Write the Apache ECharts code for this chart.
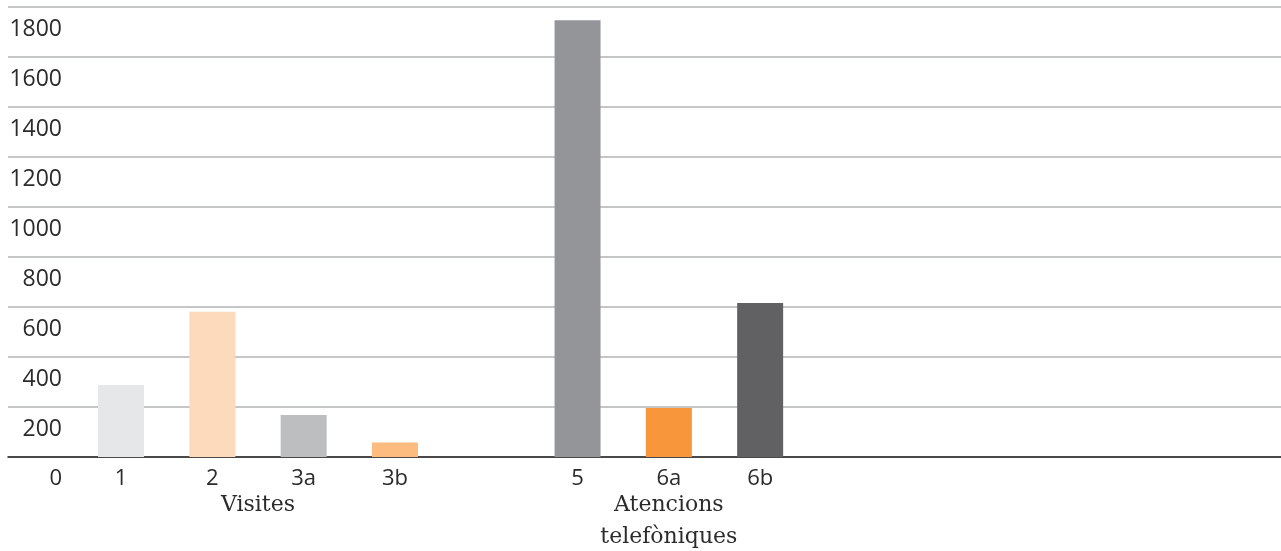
<!DOCTYPE html>
<html>
<head>
<meta charset="utf-8">
<script src="https://cdn.jsdelivr.net/npm/echarts@6/dist/echarts.min.js"></script>
<style>html,body{margin:0;padding:0;background:#fff}#c{width:1281px;height:551px}</style>
</head>
<body>
<div id="c"></div>
<script>
const categories = ['1', '2', '3a', '3b', '', '5', '6a', '6b'];
const values = [288, 581, 168, 58, null, 1747, 196, 616];
const barColors = ['#e6e7e8', '#fcdabb', '#bcbec0', '#fcbb7f', '#ffffff', '#939598', '#f7963a', '#616163'];
// group labels sit on half-band positions (2 * categories + 1 slots)
const groupSlots = new Array(categories.length * 2 + 1).fill('');
groupSlots[4] = 'Visites';
groupSlots[13] = 'Atencions\ntelefòniques';
const yMin = 0, yMax = 1800, yStep = 200;

const chart = echarts.init(document.getElementById('c'), null, {renderer: 'canvas'});
const band = 91.3;
chart.setOption({
  animation: false,
  backgroundColor: '#ffffff',
  grid: [
    {left: 8, right: 0, top: 7, bottom: 94, containLabel: false, outerBoundsMode: 'none'},
    {left: 75.4, top: 7, bottom: 94, width: band * categories.length, containLabel: false, outerBoundsMode: 'none'}
  ],
  xAxis: [
    {gridIndex: 0, type: 'value', min: 0, max: 1,
     axisLine: {show: true, lineStyle: {color: '#231f20', width: 1.6}},
     axisTick: {show: false}, axisLabel: {show: false}, splitLine: {show: false}},
    {gridIndex: 1, type: 'category', data: categories,
     axisLine: {show: false}, axisTick: {show: false},
     axisLabel: {interval: 0, fontFamily: 'Open Sans', fontSize: 22, color: '#2b2b2b', margin: 11}},
    {gridIndex: 1, type: 'category', data: groupSlots, boundaryGap: false, position: 'bottom',
     axisLine: {show: false}, axisTick: {show: false},
     axisLabel: {interval: 0, fontFamily: 'DejaVu Serif', fontSize: 22, lineHeight: 32, color: '#2b2b2b', margin: 32,
       showMinLabel: true, showMaxLabel: true}}
  ],
  yAxis: [
    {gridIndex: 0, type: 'value', min: yMin, max: yMax, interval: yStep,
     axisLine: {show: false}, axisTick: {show: false},
     splitLine: {show: true, lineStyle: {color: '#b1b3b6', width: 1.5}},
     axisLabel: {inside: true, align: 'right', margin: 54, verticalAlign: 'middle',
       padding: [44, 0, 0, 0], fontFamily: 'Open Sans', fontSize: 23, color: '#2b2b2b',
       formatter: v => v === 0 ? '{z|0}' : String(v),
       rich: {z: {fontFamily: 'Open Sans', fontSize: 22, color: '#2b2b2b'}}}},
    {gridIndex: 1, type: 'value', min: yMin, max: yMax, interval: yStep, show: false}
  ],
  series: [{
    type: 'bar', xAxisIndex: 1, yAxisIndex: 1, barWidth: 46, z: 5,
    data: values.map((v, i) => ({value: v, itemStyle: {color: barColors[i]}}))
  }]
});
</script>
</body>
</html>
